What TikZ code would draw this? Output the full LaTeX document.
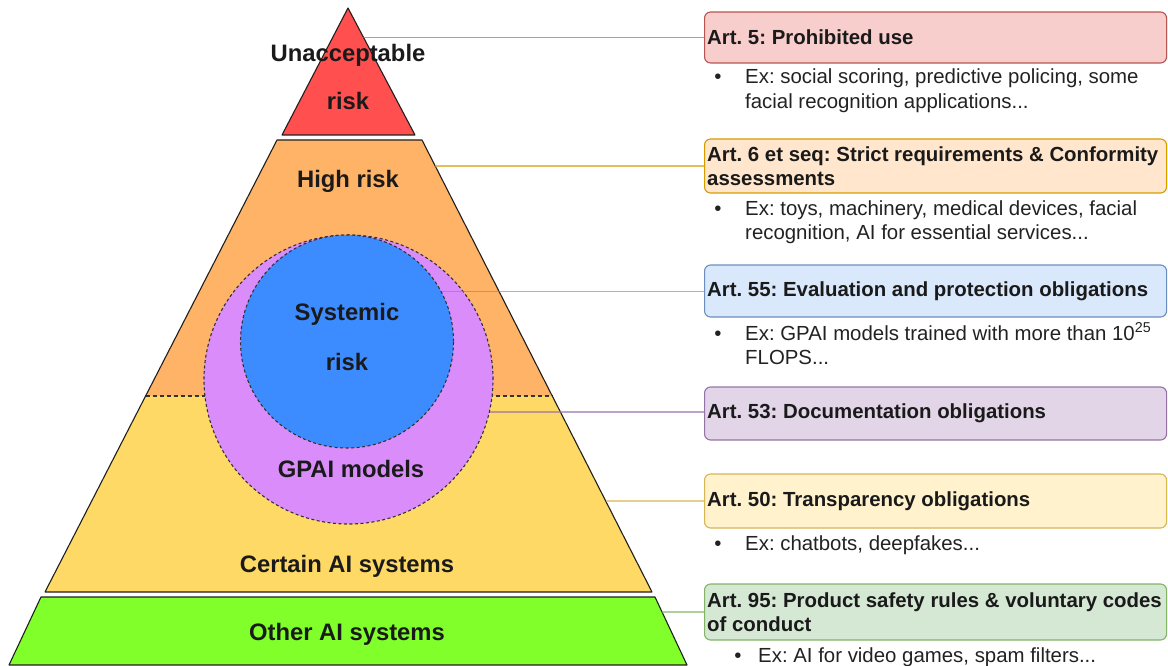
\documentclass[tikz,border=0pt]{standalone}
\usepackage{fontspec}
\setmainfont{Liberation Sans}
\frenchspacing
\definecolor{redF}{HTML}{FF4F4F}
\definecolor{oraF}{HTML}{FFB366}
\definecolor{yelF}{HTML}{FFD966}
\definecolor{grnF}{HTML}{80FF2A}
\definecolor{purF}{HTML}{D98CFA}
\definecolor{bluF}{HTML}{3D8CFF}
\definecolor{outl}{HTML}{1F1F1F}
\definecolor{dashc}{HTML}{333333}
\definecolor{txt}{HTML}{1A1A1A}
\definecolor{bodyc}{HTML}{222222}
\definecolor{b1f}{HTML}{F8CECC}\definecolor{b1s}{HTML}{B85450}
\definecolor{b2f}{HTML}{FFE6CC}\definecolor{b2s}{HTML}{D79B00}
\definecolor{b3f}{HTML}{DAE8FC}\definecolor{b3s}{HTML}{6C8EBF}
\definecolor{b4f}{HTML}{E1D5E7}\definecolor{b4s}{HTML}{9673A6}
\definecolor{b5f}{HTML}{FFF2CC}\definecolor{b5s}{HTML}{D6B656}
\definecolor{b6f}{HTML}{D5E8D4}\definecolor{b6s}{HTML}{82B366}
\tikzset{
  layer/.style={draw=outl, line width=1.1pt, line join=round},
  ring/.style={circle, draw=dashc, line width=1.1pt, dash pattern=on 3pt off 2.5pt, inner sep=0pt},
  lbl/.style={anchor=base, inner sep=0pt, text=txt, font=\fontsize{23.8}{28}\selectfont\bfseries},
  artbox/.style={anchor=west, rounded corners=6pt, line width=1.1pt, minimum width=462pt, inner sep=0pt},
  arttext/.style={anchor=west, align=left, inner sep=0pt, text=txt, font=\fontsize{20.4}{24}\selectfont\bfseries},
  body/.style={anchor=base west, inner sep=0pt, text=bodyc, font=\fontsize{20.4}{25}\selectfont},
  bul/.style={anchor=base, inner sep=0pt, text=bodyc, font=\fontsize{20.4}{25}\selectfont},
  link/.style={line width=1.3pt, draw opacity=0.65}
}
\begin{document}
\begin{tikzpicture}[x=1pt,y=-1pt]
\useasboundingbox (0,0) rectangle (1168,666);
% pyramid corners
\coordinate (rA) at (348,8);
\coordinate (rL) at (282,135);
\coordinate (rR) at (415,135);
\coordinate (oTL) at (277,140);
\coordinate (oTR) at (422,140);
\coordinate (mL) at (145.6,396);
\coordinate (mR) at (552.3,396);
\coordinate (yBL) at (45,592);
\coordinate (yBR) at (652,592);
\coordinate (gTL) at (41,597);
\coordinate (gTR) at (655,597);
\coordinate (gBR) at (687,665);
\coordinate (gBL) at (9,665);
% layers
\fill[oraF] (oTL) -- (oTR) -- (mR) -- (mL) -- cycle;
\fill[yelF] (mL) -- (mR) -- (yBR) -- (yBL) -- cycle;
\draw[dashc, line width=1.1pt, dash pattern=on 4pt off 3pt] (mL) -- (mR);
\draw[layer] (oTL) -- (oTR) -- (yBR) -- (yBL) -- cycle;
\filldraw[layer, fill=redF] (rA) -- (rR) -- (rL) -- cycle;
\filldraw[layer, fill=grnF] (gTL) -- (gTR) -- (gBR) -- (gBL) -- cycle;
% circles
\node[ring, fill=purF, minimum size=289pt] (gpai) at (348.5,379.5) {};
\node[ring, fill=bluF, minimum size=213pt] (sys) at (347,341.5) {};
% left labels
\node[lbl] (l1a) at (348,62) {Unacceptable};
\node[lbl] (l1b) at (348,110) {risk};
\node[lbl] (l2) at (348,188) {High risk};
\node[lbl] (l3a) at (347,320) {Systemic};
\node[lbl] (l3b) at (347,370) {risk};
\node[lbl] (l4) at (351,477) {GPAI models};
\node[lbl] (l5) at (347,572) {Certain AI systems};
\node[lbl] (l6) at (347,640) {Other AI systems};
% right boxes
\node[artbox, draw=b1s, fill=b1f, minimum height=51pt] (a5) at (704,37.5) {};
\node[artbox, draw=b2s, fill=b2f, minimum height=54pt] (a6) at (704,166) {};
\node[artbox, draw=b3s, fill=b3f, minimum height=52pt] (a55) at (704,291) {};
\node[artbox, draw=b4s, fill=b4f, minimum height=53pt] (a53) at (704,413.5) {};
\node[artbox, draw=b5s, fill=b5f, minimum height=54pt] (a50) at (704,501) {};
\node[artbox, draw=b6s, fill=b6f, minimum height=56pt] (a95) at (704,612) {};
\node[arttext] (a5t) at ([xshift=3pt]a5.west) {Art. 5: Prohibited use};
\node[arttext] (a6t) at ([xshift=3pt]a6.west) {Art. 6 et seq: Strict requirements \& Conformity\\assessments};
\node[arttext] (a55t) at ([xshift=3pt]a55.west) {Art. 55: Evaluation and protection obligations};
\node[arttext] (a53t) at ([xshift=3pt]a53.west) {Art. 53: Documentation obligations};
\node[arttext] (a50t) at ([xshift=3pt]a50.west) {Art. 50: Transparency obligations};
\node[arttext] (a95t) at ([xshift=3pt]a95.west) {Art. 95: Product safety rules \& voluntary codes\\of conduct};
% connector start points
\coordinate (s5) at (363.3,37.5);
\coordinate (s6) at (434.7,166);
\coordinate (s50) at (605.7,501);
\coordinate (s95) at (662.2,612);
\draw[link, b1s] (s5) -- (s5 -| a5.west);
\draw[link, b2s] (s6) -- (s6 -| a6.west);
\draw[link, b3s] (sys.28.3) -- (sys.28.3 -| a55.west);
\draw[link, b4s] (gpai.-13) -- (gpai.-13 -| a53.west);
\draw[link, b5s] (s50) -- (s50 -| a50.west);
\draw[link, b6s] (s95) -- (s95 -| a95.west);
% bullets
\node[bul] (d1) at (718,84) {•};
\node[body] (t1a) at (745,84) {Ex: social scoring, predictive policing, some};
\node[body] (t1b) at (745,109) {facial recognition applications...};
\node[bul] (d2) at (718,215) {•};
\node[body] (t2a) at (745,215) {Ex: toys, machinery, medical devices, facial};
\node[body] (t2b) at (745,240) {recognition, AI for essential services...};
\node[bul] (d3) at (718,340) {•};
\node[body] (t3a) at (745,340) {Ex: GPAI models trained with more than 10\textsuperscript{25}};
\node[body] (t3b) at (745,364) {FLOPS...};
\node[bul] (d5) at (718,550) {•};
\node[body] (t5a) at (745,550) {Ex: chatbots, deepfakes...};
\node[bul] (d6) at (738,662) {•};
\node[body] (t6a) at (758,662) {Ex: AI for video games, spam filters...};
\end{tikzpicture}
\end{document}
